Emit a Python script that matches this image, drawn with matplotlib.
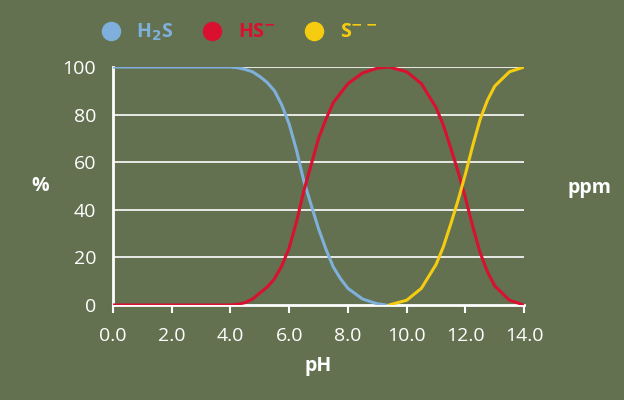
import numpy as np
import matplotlib.pyplot as plt
from matplotlib.lines import Line2D

plt.rcParams['font.family'] = ['Open Sans', 'DejaVu Sans']

# values
ph_h2s = [0, 1, 2, 3, 4, 4.25, 4.5, 4.75, 5, 5.25, 5.5, 5.75, 6, 6.25, 6.5, 6.75,
          7, 7.25, 7.5, 7.75, 8, 8.5, 9, 9.3]
pct_h2s = [100, 100, 100, 100, 100, 99.7, 99, 98, 96, 93.5, 90, 84, 76, 65, 52, 42,
           32, 23.5, 16, 11, 7, 2.5, 0.5, 0]

ph_hs = [0, 1, 2, 3, 4, 4.25, 4.5, 4.75, 5, 5.25, 5.5, 5.75, 6, 6.25, 6.5, 6.75,
         7, 7.25, 7.5, 8, 8.5, 9, 9.4, 10, 10.5, 11, 11.25, 11.5, 11.75, 12,
         12.25, 12.5, 12.75, 13, 13.5, 14]
pct_hs = [0, 0, 0, 0, 0, 0.3, 1, 2.5, 5, 7.5, 11, 16.5, 24, 35, 48, 59,
          70, 78, 85, 93, 97.5, 99.5, 100, 98, 93, 83, 75.5, 66, 56, 45,
          33, 22, 14, 8, 2, 0]

ph_s = [9.4, 10, 10.5, 11, 11.25, 11.5, 11.75, 12, 12.25, 12.5, 12.75, 13, 13.5, 14]
pct_s = [0, 2, 7, 17, 24.5, 34, 44, 55, 67, 78, 86, 92, 98, 100]

x_ticks = [0, 2, 4, 6, 8, 10, 12, 14]
y_ticks = [0, 20, 40, 60, 80, 100]

c_h2s, c_hs, c_s = '#7fb0db', '#d9102f', '#f5cc10'
bg = '#637150'

fig = plt.figure(figsize=(6.24, 4.0), dpi=100, facecolor=bg)
ax = fig.add_axes([0.181, 0.2375, 0.659, 0.595])
ax.set_facecolor('none')

for y in y_ticks[1:]:
    ax.axhline(y, color='white', lw=1.2, zorder=1)

style = dict(lw=2.2, solid_joinstyle='round', solid_capstyle='round')
ax.plot(ph_h2s, pct_h2s, color=c_h2s, zorder=3, **style)
ax.plot(ph_hs, pct_hs, color=c_hs, zorder=3, **style)
ax.plot(ph_s, pct_s, color=c_s, zorder=4, **style)

ax.set_xlim(0, 14)
ax.set_ylim(0, 100)
ax.set_xticks(x_ticks)
ax.set_xticklabels([f'{t:.1f}' for t in x_ticks])
ax.set_yticks(y_ticks)
for side in ['top', 'right']:
    ax.spines[side].set_visible(False)
for side in ['left', 'bottom']:
    ax.spines[side].set_color('white')
    ax.spines[side].set_linewidth(2)
ax.tick_params(axis='x', colors='white', direction='out', length=6, width=1.5,
               labelsize=14, pad=10)
ax.tick_params(axis='y', colors='white', length=0, labelsize=14, pad=12)

ax.set_xlabel('pH', color='white', fontsize=14, fontweight='bold', labelpad=8)
fig.text(0.065, 0.535, '%', color='white', fontsize=14, fontweight='bold',
         ha='center', va='center')
fig.text(0.945, 0.53, 'ppm', color='white', fontsize=14, fontweight='bold',
         ha='center', va='center')

handles = [Line2D([], [], marker='o', ls='none', ms=13, color=c) for c in (c_h2s, c_hs, c_s)]
labels = ['H$_\\mathbf{2}$S', 'HS$^{\\mathbf{-}}$', 'S$^{\\mathbf{--}}$']
leg = fig.legend(handles, labels, loc='center', bbox_to_anchor=(0.375, 0.92), ncol=3,
                 frameon=False, fontsize=14, handletextpad=0.3, columnspacing=1.0)
for txt, c in zip(leg.get_texts(), (c_h2s, c_hs, c_s)):
    txt.set_color(c)
    txt.set_fontweight('bold')

fig.savefig('out.png', dpi=100, facecolor=bg)
